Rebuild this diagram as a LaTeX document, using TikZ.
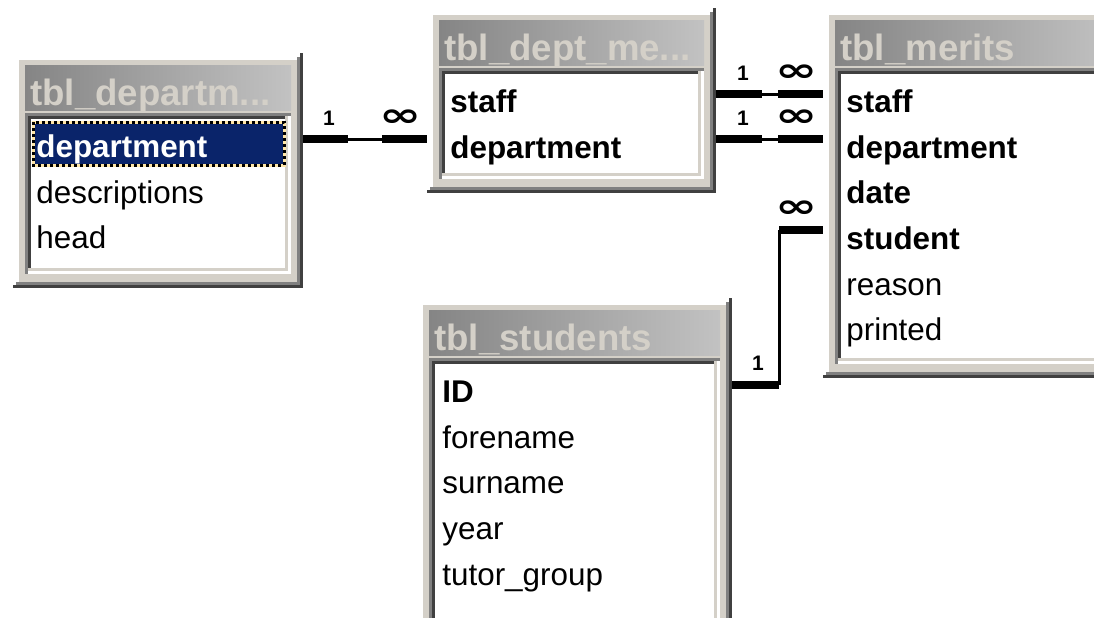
\documentclass[tikz,border=0pt]{standalone}
\usepackage{fontspec}
\setmainfont{Liberation Sans}
\newfontfamily\symfont{DejaVu Sans}
\usepackage{graphicx}
\usetikzlibrary{positioning}
\definecolor{winface}{HTML}{D4D0C8}
\definecolor{winshadow}{HTML}{808080}
\definecolor{windark}{HTML}{404040}
\definecolor{capleft}{HTML}{858585}
\definecolor{capright}{HTML}{C2C2C2}
\definecolor{selblue}{HTML}{0A246A}
\definecolor{focusyellow}{HTML}{FFE6A8}
\tikzset{
	field/.style={anchor=base west, inner sep=0pt, font=\fontsize{15.7}{18}\selectfont},
	keyfield/.style={field, font=\fontsize{15.7}{18}\selectfont\bfseries},
	caption/.style={anchor=base west, inner sep=0pt, text=winface, font=\fontsize{18.3}{22}\selectfont\bfseries},
	stub/.style={line width=4pt},
	joinline/.style={line width=1.5pt},
	card/.style={inner sep=0pt, font=\fontsize{10.5}{12}\selectfont\bfseries},
}
% the "many" end of a join
\newcommand{\manymark}{\scalebox{2.3}[1.5]{\symfont\bfseries\fontsize{11}{12}\selectfont ∞}}
% table window: left, top, right, bottom (pixels, y down)
\newcommand{\tblwindow}[4]{%
	\fill[winface] (#1,#2) rectangle (#3,#4);
	% shadow edges right and below
	\fill[winshadow] (#3,#2-3) rectangle (#3+3,#4+3);
	\fill[winshadow] (#1-3,#4) rectangle (#3+3,#4+3);
	\fill[windark] (#3+3,#2-7) rectangle (#3+6,#4+6);
	\fill[windark] (#1-6,#4+3) rectangle (#3+6,#4+6);
	% caption bar
	\shade[left color=capleft, right color=capright] (#1+6,#2+5) rectangle (#3-6,#2+50);
	% sunken field list
	\fill[white] (#1+6,#2+53) rectangle (#3-6,#4-8);
	\fill[winshadow] (#1+6,#2+53) rectangle (#3-6,#2+56);
	\fill[winshadow] (#1+6,#2+53) rectangle (#1+9,#4-8);
	\fill[windark] (#1+9,#2+56) rectangle (#3-9,#2+59);
	\fill[windark] (#1+9,#2+56) rectangle (#1+12,#4-11);
	\fill[winface] (#1+9,#4-14) rectangle (#3-9,#4-11);
	\fill[winface] (#3-12,#2+56) rectangle (#3-9,#4-11);
}

\begin{document}
\begin{tikzpicture}[x=0.5pt, y=-0.5pt]
	\useasboundingbox (0,0) rectangle (1094,617);
	\clip (0,0) rectangle (1094,617);
	\fill[white] (0,0) rectangle (1094,617);

	% tbl_departments
	\tblwindow{19}{60}{297}{282}
	\node[caption] (dep-title) at (30,105) {tbl\_departm...};
	\fill[selblue] (33,122) rectangle (284,165);
	\draw[focusyellow, line width=1.5pt] (33,122) rectangle (284,165);
	\draw[black, line width=1.5pt, dash pattern=on 1.5pt off 1.5pt] (33,122) rectangle (284,165);
	\node[keyfield, text=white] (dep-department) at (36,157) {department};
	\node[field] (dep-descriptions) at (36,203) {descriptions};
	\node[field] (dep-head) at (36,248) {head};

	% tbl_dept_members
	\tblwindow{433}{15}{710}{187}
	\node[caption] (mem-title) at (444,60) {tbl\_dept\_me...};
	\node[keyfield] (mem-staff) at (450,112) {staff};
	\node[keyfield] (mem-department) at (450,158) {department};

	% tbl_merits
	\tblwindow{829}{15}{1120}{372}
	\node[caption] (mer-title) at (840,60) {tbl\_merits};
	\node[keyfield] (mer-staff) at (846,112) {staff};
	\node[keyfield] (mer-department) at (846,158) {department};
	\node[keyfield] (mer-date) at (846,203) {date};
	\node[keyfield] (mer-student) at (846,249) {student};
	\node[field] (mer-reason) at (846,295) {reason};
	\node[field] (mer-printed) at (846,340) {printed};

	% tbl_students
	\tblwindow{423}{305}{726}{650}
	\node[caption] (stu-title) at (434,350) {tbl\_students};
	\node[keyfield] (stu-ID) at (442,402) {ID};
	\node[field] (stu-forename) at (442,448) {forename};
	\node[field] (stu-surname) at (442,493) {surname};
	\node[field] (stu-year) at (442,539) {year};
	\node[field] (stu-tutor) at (442,585) {tutor\_group};

	% department -> dept_members
	\coordinate (j1a) at (303,139);
	\coordinate (j1b) at (348,139);
	\coordinate (j1c) at (382,139);
	\coordinate (j1d) at (427,139);
	\draw[stub] (j1a) -- (j1b);
	\draw[joinline] (j1b) -- (j1c);
	\draw[stub] (j1c) -- (j1d);
	\node[card] (j1-one) at (329,118) {1};
	\node[card] (j1-many) at (401,118) {\manymark};

	% staff -> merits
	\coordinate (j2a) at (716,94);
	\coordinate (j2b) at (762,94);
	\coordinate (j2c) at (778,94);
	\coordinate (j2d) at (823,94);
	\draw[stub] (j2a) -- (j2b);
	\draw[joinline] (j2b) -- (j2c);
	\draw[stub] (j2c) -- (j2d);
	\node[card] (j2-one) at (743,73) {1};
	\node[card] (j2-many) at (797,73) {\manymark};

	% department -> merits
	\coordinate (j3a) at (716,139);
	\coordinate (j3b) at (762,139);
	\coordinate (j3c) at (778,139);
	\coordinate (j3d) at (823,139);
	\draw[stub] (j3a) -- (j3b);
	\draw[joinline] (j3b) -- (j3c);
	\draw[stub] (j3c) -- (j3d);
	\node[card] (j3-one) at (743,118) {1};
	\node[card] (j3-many) at (797,118) {\manymark};

	% students -> merits
	\coordinate (j4a) at (732,385);
	\coordinate (j4b) at (779,385);
	\coordinate (j4c) at (779,230);
	\coordinate (j4d) at (823,230);
	\draw[stub] (j4a) -- (j4b);
	\draw[joinline] (j4b) -- (j4c);
	\draw[stub] (j4c) -- (j4d);
	\node[card] (j4-one) at (758,363) {1};
	\node[card] (j4-many) at (797,209) {\manymark};
\end{tikzpicture}
\end{document}
